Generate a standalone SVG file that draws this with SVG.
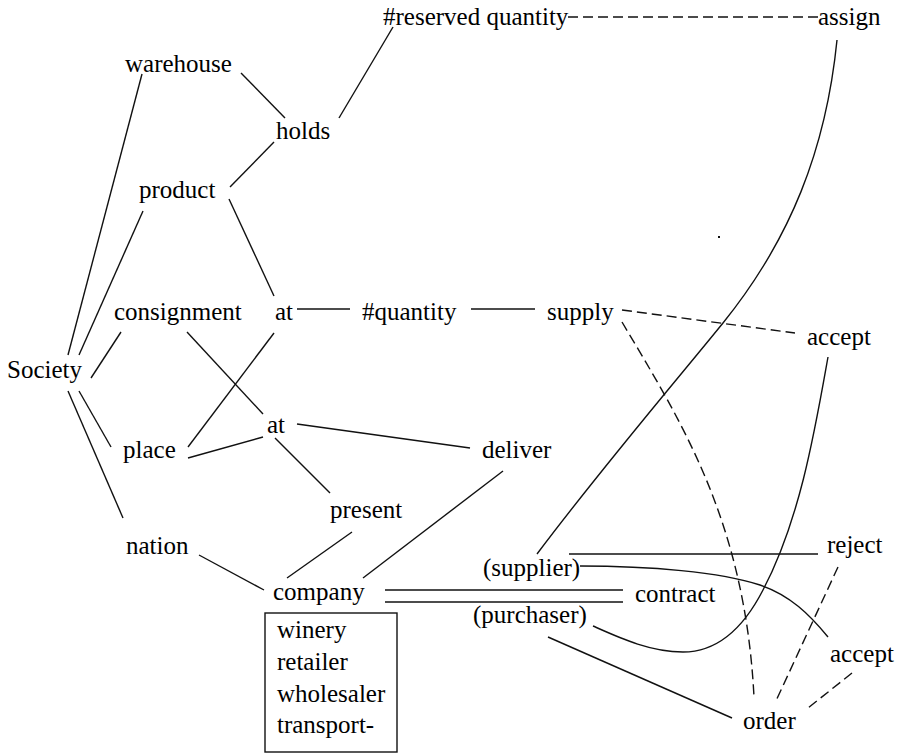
<svg xmlns="http://www.w3.org/2000/svg" width="902" height="754" viewBox="0 0 902 754">
  <rect width="902" height="754" fill="#fff"/>

  <g id="connectors" fill="none" stroke="#111" stroke-width="1.4">
    <!-- solid links -->
    <g id="solid-links">
      <line x1="142" y1="74" x2="68" y2="355"/>
      <line x1="143" y1="211" x2="79" y2="355"/>
      <line x1="121" y1="332" x2="91" y2="378"/>
      <line x1="79" y1="391" x2="111" y2="447"/>
      <line x1="68" y1="391" x2="123" y2="518"/>
      <line x1="241" y1="73" x2="285" y2="118"/>
      <line x1="339" y1="118" x2="393" y2="27"/>
      <line x1="274" y1="142" x2="230" y2="187"/>
      <line x1="229" y1="199" x2="274" y2="296"/>
      <line x1="187" y1="332" x2="263" y2="414"/>
      <line x1="274" y1="333" x2="188" y2="447"/>
      <line x1="188" y1="458" x2="263" y2="437"/>
      <line x1="275" y1="438" x2="330" y2="493"/>
      <line x1="297" y1="424" x2="470" y2="448"/>
      <line x1="297" y1="309" x2="350" y2="309"/>
      <line x1="471" y1="309" x2="535" y2="309"/>
      <line x1="352" y1="532" x2="287" y2="578"/>
      <line x1="503" y1="471" x2="363" y2="578"/>
      <line x1="199" y1="555" x2="264" y2="590"/>
      <line x1="385" y1="590" x2="623" y2="590"/>
      <line x1="385" y1="602" x2="623" y2="602"/>
      <line x1="569" y1="554" x2="818" y2="554"/>
      <line x1="548" y1="637" x2="732" y2="718"/>
      <path d="M837,40 C826,150 790,240 723,323 C680,376 600,470 537,554"/>
      <path d="M828,357 C815,430 800,520 763,590 C745,625 720,652 683,652 C650,652 620,638 593,626"/>
      <path d="M580,566 C650,566 720,572 760,585 C790,595 810,615 828,637"/>
    </g>
    <!-- dashed links -->
    <g id="dashed-links" stroke-dasharray="10 5">
      <line x1="568" y1="17" x2="818" y2="17"/>
      <line x1="622" y1="310" x2="795" y2="333"/>
      <path d="M622,322 C680,420 745,520 754,697"/>
      <line x1="838" y1="567" x2="775" y2="703"/>
      <line x1="852" y1="673" x2="808" y2="708"/>
    </g>
  </g>

  <!-- company type list box -->
  <rect id="node-company-box" x="265" y="613" width="132" height="139" fill="none" stroke="#111" stroke-width="1.4"/>

  <!-- node labels -->
  <text id="node-society" x="7" y="378" font-family="Liberation Serif" font-size="25">Society</text>
  <text id="node-warehouse" x="125" y="72" font-family="Liberation Serif" font-size="25">warehouse</text>
  <text id="node-holds" x="276" y="139" font-family="Liberation Serif" font-size="25">holds</text>
  <text id="node-reserved-quantity" x="383" y="25" font-family="Liberation Serif" font-size="25">#reserved quantity</text>
  <text id="node-assign" x="818" y="25" font-family="Liberation Serif" font-size="25">assign</text>
  <text id="node-product" x="139" y="198" font-family="Liberation Serif" font-size="25">product</text>
  <text id="node-consignment" x="114" y="320" font-family="Liberation Serif" font-size="25">consignment</text>
  <text id="node-at-upper" x="275" y="320" font-family="Liberation Serif" font-size="25">at</text>
  <text id="node-quantity" x="362" y="320" font-family="Liberation Serif" font-size="25">#quantity</text>
  <text id="node-supply" x="547" y="320" font-family="Liberation Serif" font-size="25">supply</text>
  <text id="node-accept-upper" x="807" y="345" font-family="Liberation Serif" font-size="25">accept</text>
  <text id="node-at-lower" x="267" y="433" font-family="Liberation Serif" font-size="25">at</text>
  <text id="node-place" x="123" y="458" font-family="Liberation Serif" font-size="25">place</text>
  <text id="node-deliver" x="482" y="458" font-family="Liberation Serif" font-size="25">deliver</text>
  <text id="node-present" x="330" y="518" font-family="Liberation Serif" font-size="25">present</text>
  <text id="node-nation" x="126" y="554" font-family="Liberation Serif" font-size="25">nation</text>
  <text id="node-company" x="273" y="600" font-family="Liberation Serif" font-size="25">company</text>
  <text id="node-company-winery" x="277" y="638" font-family="Liberation Serif" font-size="25">winery</text>
  <text id="node-company-retailer" x="277" y="670" font-family="Liberation Serif" font-size="25">retailer</text>
  <text id="node-company-wholesaler" x="277" y="702" font-family="Liberation Serif" font-size="25">wholesaler</text>
  <text id="node-company-transport" x="277" y="733" font-family="Liberation Serif" font-size="25">transport-</text>
  <text id="node-supplier" x="483" y="576" font-family="Liberation Serif" font-size="25">(supplier)</text>
  <text id="node-purchaser" x="473" y="623" font-family="Liberation Serif" font-size="25">(purchaser)</text>
  <text id="node-contract" x="635" y="602" font-family="Liberation Serif" font-size="25">contract</text>
  <text id="node-reject" x="827" y="553" font-family="Liberation Serif" font-size="25">reject</text>
  <text id="node-accept-lower" x="830" y="662" font-family="Liberation Serif" font-size="25">accept</text>
  <text id="node-order" x="743" y="729" font-family="Liberation Serif" font-size="25">order</text>

  <!-- small ink speck -->
  <rect x="718" y="236" width="2" height="2" fill="#111"/>
</svg>
